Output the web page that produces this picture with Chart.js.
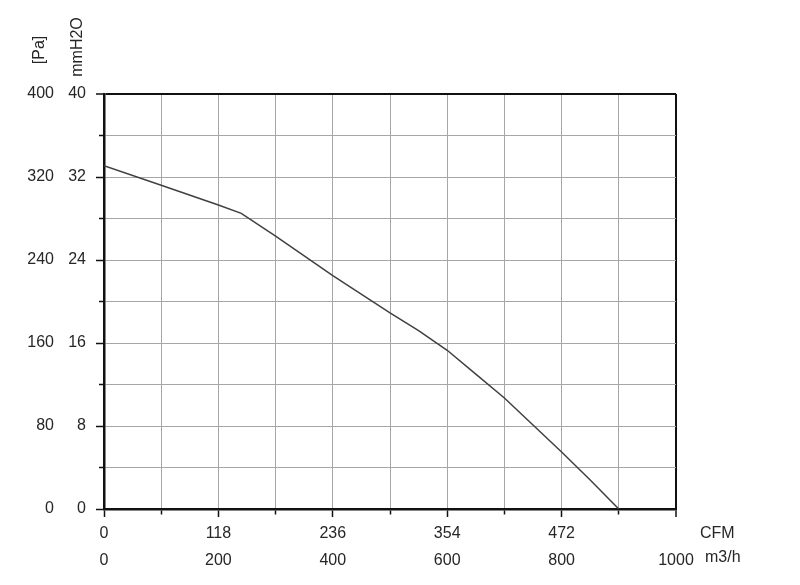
<!DOCTYPE html>
<html>
<head>
<meta charset="utf-8">
<script src="https://cdn.jsdelivr.net/npm/chart.js@4.4.1/dist/chart.umd.min.js"></script>
<style>
  html, body { margin: 0; padding: 0; background: #fff; }
  #wrap { width: 800px; height: 585px; position: relative; }
</style>
</head>
<body>
<div id="wrap"><canvas id="c"></canvas></div>
<script>
// Fan curve: airflow (m3/h) vs static pressure (Pa)
const flowM3h    = [0, 100, 200, 240, 300, 400, 500, 550, 600, 650, 700, 750, 800, 850, 900];
const pressurePa = [331, 312, 293, 285, 263, 225, 189, 172, 153, 130, 107, 81, 55, 28, 0];

// Tick labels
const cfmTickValues = [0, 200, 400, 600, 800];          // positions in m3/h
const cfmTickLabels = ['0', '118', '236', '354', '472'];
const m3hTickValues = [0, 200, 400, 600, 800, 1000];
const m3hTickLabels = ['0', '200', '400', '600', '800', '1000'];
const paTickValues  = [0, 80, 160, 240, 320, 400];
const paTickLabels  = ['0', '80', '160', '240', '320', '400'];
const mmTickValues  = [0, 80, 160, 240, 320, 400];      // positions in Pa
const mmTickLabels  = ['0', '8', '16', '24', '32', '40'];

const TEXT = '#262626';
const GRID = '#a6a6a6';
const AXIS = '#111111';

Chart.defaults.font.family = "'Liberation Sans', Arial, sans-serif";
Chart.defaults.font.size = 16;
Chart.defaults.color = TEXT;

const titlesPlugin = {
  id: 'titles',
  afterDraw(chart) {
    const ctx = chart.ctx;
    const a = chart.chartArea;
    ctx.save();
    ctx.fillStyle = TEXT;
    ctx.font = "16px 'Liberation Sans', Arial, sans-serif";
    ctx.textBaseline = 'middle';
    ctx.textAlign = 'left';
    ctx.fillText('CFM', a.right + 24, a.bottom + 25);
    ctx.fillText('m3/h', a.right + 29, a.bottom + 49);
    ctx.textAlign = 'center';
    ctx.save();
    ctx.translate(40, a.top - 44);
    ctx.rotate(-Math.PI / 2);
    ctx.fillText('[Pa]', 0, 0);
    ctx.restore();
    ctx.save();
    ctx.translate(78, a.top - 47);
    ctx.rotate(-Math.PI / 2);
    ctx.fillText('mmH2O', 0, 0);
    ctx.restore();
    ctx.restore();
  }
};

function labelFrom(values, labels) {
  return function (v) {
    const i = values.indexOf(v);
    return i >= 0 ? labels[i] : '';
  };
}

new Chart(document.getElementById('c'), {
  type: 'scatter',
  data: {
    datasets: [{
      data: flowM3h.map((f, i) => ({ x: f, y: pressurePa[i] })),
      showLine: true,
      borderColor: '#404040',
      borderWidth: 1.5,
      pointRadius: 0,
      tension: 0,
      xAxisID: 'x',
      yAxisID: 'y'
    }]
  },
  options: {
    responsive: true,
    maintainAspectRatio: false,
    animation: false,
    events: [],
    layout: { padding: { left: 0, right: 124, top: 94, bottom: 0 } },
    plugins: { legend: { display: false }, tooltip: { enabled: false } },
    scales: {
      x: {
        type: 'linear', position: 'bottom', weight: 0,
        min: 0, max: 1000,
        afterFit(s) { s.height = 38; },
        ticks: {
          stepSize: 100, autoSkip: false, maxRotation: 0, padding: 7,
          callback: labelFrom(cfmTickValues, cfmTickLabels)
        },
        grid: {
          color: c => (c.tick && c.tick.value === 1000) ? AXIS : GRID,
          lineWidth: c => (c.tick && c.tick.value === 1000) ? 2 : 1,
          tickColor: AXIS, tickLength: 8, tickWidth: 1.5,
          tickBorderDash: c => (c.tick && c.tick.value % 200 !== 0) ? [4, 30] : []
        },
        border: { display: true, color: AXIS, width: 2.5 }
      },
      x2: {
        type: 'linear', position: 'bottom', weight: 1,
        min: 0, max: 1000,
        afterFit(s) { s.height = 38; },
        ticks: {
          stepSize: 200, autoSkip: false, maxRotation: 0, padding: 4,
          callback: labelFrom(m3hTickValues, m3hTickLabels)
        },
        grid: { display: false, drawTicks: false },
        border: { display: false }
      },
      y: {
        type: 'linear', position: 'left', weight: 0,
        min: 0, max: 400,
        afterFit(s) { s.width = 40; },
        ticks: {
          stepSize: 40, autoSkip: false, padding: 10,
          callback: labelFrom(mmTickValues, mmTickLabels)
        },
        grid: {
          color: c => (c.tick && c.tick.value === 400) ? AXIS : GRID,
          lineWidth: c => (c.tick && c.tick.value === 400) ? 2 : 1,
          tickColor: AXIS, tickLength: 8, tickWidth: 1.5,
          tickBorderDash: c => (c.tick && c.tick.value % 80 !== 0) ? [0, 3, 12, 40] : []
        },
        border: { display: true, color: AXIS, width: 2.5 }
      },
      y2: {
        type: 'linear', position: 'left', weight: 1,
        min: 0, max: 400,
        afterFit(s) { s.width = 64; },
        ticks: {
          stepSize: 80, autoSkip: false, padding: 10,
          callback: labelFrom(paTickValues, paTickLabels)
        },
        grid: { display: false, drawTicks: false },
        border: { display: false }
      }
    }
  },
  plugins: [titlesPlugin]
});
</script>
</body>
</html>
